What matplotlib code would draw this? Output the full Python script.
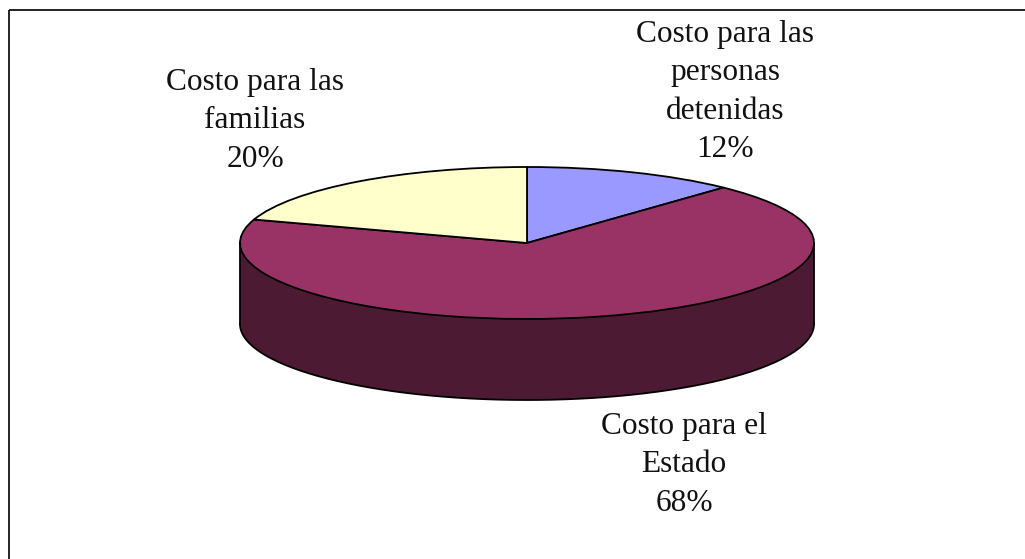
import numpy as np
import matplotlib
matplotlib.use('Agg')
import matplotlib.pyplot as plt

labels = ['Costo para las\npersonas\ndetenidas\n12%', 'Costo para el\nEstado\n68%', 'Costo para las\nfamilias\n20%']
values = [12, 68, 20]
colors = ['#9999FF', '#993366', '#FFFFCC']
side_color = '#4D1A33'

W, H = 1025, 559
fig = plt.figure(figsize=(W/100, H/100), dpi=100, facecolor='white')
bg = fig.add_axes([0, 0, 1, 1])
bg.set_xlim(0, W); bg.set_ylim(H, 0); bg.axis('off')
# The frame is cropped by the image: only its top and left sides show
bg.plot([8.7, W], [9.7, 9.7], color='black', lw=1.2, solid_capstyle='butt')
bg.plot([8.7, 8.7], [9.7, H], color='black', lw=1.2, solid_capstyle='butt')

cx, cy, rx, ry, depth = 527, 243, 287, 76, 81
ax = fig.add_axes([(cx-rx)/W, 1-(cy+ry+depth)/H, 2*rx/W, (2*ry+depth)/H])
ax.axis('off')
t = np.linspace(np.pi, 2*np.pi, 200)
xs = np.cos(t)
ys = np.sin(t)
d = depth/ry
ax.fill_between(xs, ys, ys-d, color=side_color, ec='none', zorder=1, clip_on=False)
ax.plot(xs, ys-d, color='black', lw=1.3, zorder=2, clip_on=False)
ax.plot([-1, -1], [0, -d], color='black', lw=1.3, zorder=2, clip_on=False)
ax.plot([1, 1], [0, -d], color='black', lw=1.3, zorder=2, clip_on=False)
wedges, _ = ax.pie(values, colors=colors, startangle=90, counterclock=False, radius=1, center=(0, 0),
                   wedgeprops=dict(edgecolor='black', linewidth=1.3, zorder=3), frame=False, normalize=True)
for w in wedges:
    w.set_clip_on(False)
ax.set_aspect('auto')
ax.set_xlim(-1, 1)
ax.set_ylim(-1-d, 1)

font = dict(family=['Liberation Serif'], fontsize=22.6, ha='center', va='center', linespacing=1.42, color='#111111')
bg.text(725, 92, labels[0], **font)
bg.text(684, 465, labels[1], **font)
bg.text(255, 121, labels[2], **font)
fig.savefig('out.png', dpi=100)
